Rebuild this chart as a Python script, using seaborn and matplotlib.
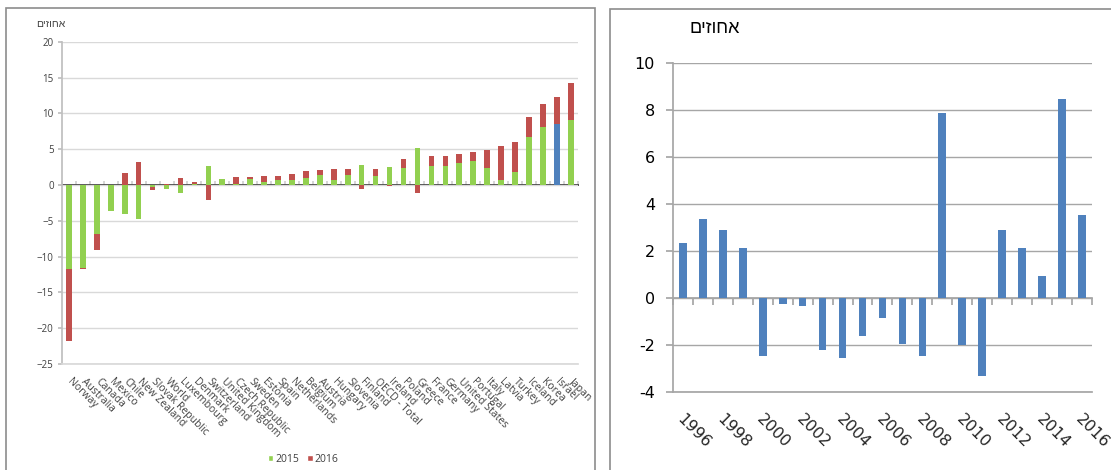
import numpy as np
import pandas as pd
import matplotlib
matplotlib.use("Agg")
import matplotlib.pyplot as plt
from matplotlib.patches import Rectangle, Patch
from matplotlib.transforms import ScaledTranslation
import seaborn as sns

# Price change by country, 2015 and 2016 (percent)
countries = [
    "Norway", "Australia", "Canada", "Mexico", "Chile", "New Zealand",
    "Slovak Republic", "World", "Luxembourg", "Denmark", "Switzerland",
    "United Kingdom", "Czech Republic", "Sweden", "Estonia", "Spain",
    "Netherlands", "Belgium", "Austria", "Hungary", "Slovenia", "Finland",
    "OECD - Total", "Ireland", "Poland", "Greece", "France", "Germany",
    "United States", "Portugal", "Italy", "Latvia", "Turkey", "Iceland",
    "Korea", "Israel", "Japan",
]
change_2015 = [
    -11.7, -11.6, -6.9, -3.6, -4.1, -4.7, -0.25, -0.55, -1.1, 0.2, 2.6,
    0.8, 0.2, 0.85, 0.4, 0.75, 0.75, 1.0, 1.35, 0.75, 1.35, 2.8,
    1.2, 2.55, 2.4, 5.1, 2.7, 2.6, 3.1, 3.35, 2.35, 0.75, 1.8, 6.75,
    8.15, 8.5, 9.1,
]
change_2016 = [
    -10.1, -0.1, -2.2, -0.1, 1.7, 3.2, -0.4, 0.1, 0.9, 0.15, -2.1,
    0.05, 0.85, 0.3, 0.85, 0.5, 0.8, 0.9, 0.8, 1.45, 0.85, -0.55,
    1.05, -0.15, 1.2, -1.1, 1.35, 1.5, 1.25, 1.2, 2.55, 4.7, 4.2, 2.8,
    3.1, 3.75, 5.2,
]
highlight_country = "Israel"

# Israel, annual change 1996-2016 (percent)
years = list(range(1996, 2017))
israel_change = [
    2.35, 3.35, 2.9, 2.15, -2.45, -0.27, -0.32, -2.2, -2.55, -1.6, -0.85,
    -1.95, -2.45, 7.85, -2.0, -3.3, 2.9, 2.15, 0.92, 8.45, 3.55,
]

ylabel_text = "אחוזים"


def rtl(s):
    # matplotlib lays text out left-to-right; reverse Hebrew for display
    return s[::-1]


def nudge(labels, dx_px):
    for lab in labels:
        lab.set_transform(lab.get_transform() +
                          ScaledTranslation(dx_px / 100, 0, fig.dpi_scale_trans))


GREEN = "#92d050"
RED = "#c0504d"
BLUE = "#4f81bd"

sns.set_theme(style="white")
plt.rcParams["font.family"] = ["Open Sans", "DejaVu Sans"]

fig = plt.figure(figsize=(11.11, 4.70), dpi=100)

# ---------------- left panel: stacked bars by country ----------------
ax1 = fig.add_axes([0.0558, 0.2255, 0.4642, 0.6858])

df = pd.DataFrame({"country": countries, "y2015": change_2015, "y2016": change_2016})
a = df["y2015"].to_numpy()
b = df["y2016"].to_numpy()
# positive values stack on positives, negatives on negatives
base_2016 = np.where(b >= 0, np.maximum(a, 0), np.minimum(a, 0))

sns.barplot(data=df, x="country", y="y2015", order=countries, color=GREEN,
            saturation=1, width=0.4, ax=ax1, zorder=3, linewidth=0)
hi = countries.index(highlight_country)
ax1.patches[hi].set_facecolor(BLUE)
sns.barplot(data=df, x="country", y="y2016", order=countries, color=RED,
            saturation=1, width=0.4, ax=ax1, bottom=base_2016, zorder=3,
            linewidth=0)

ax1.set_xlim(-0.5, len(countries) - 0.5)
ax1.set_ylim(-25, 20)
ax1.set_yticks(np.arange(-25, 21, 5))
ax1.yaxis.grid(True, color="#d9d9d9", linewidth=1.0, zorder=0)
ax1.set_xlabel("")
ax1.set_ylabel("")
for side in ["top", "right"]:
    ax1.spines[side].set_visible(False)
ax1.spines["bottom"].set_color("#d9d9d9")
ax1.spines["left"].set_color("#bfbfbf")
ax1.tick_params(axis="y", which="major", left=True, length=3, color="#bfbfbf",
                pad=3, labelsize=7, labelcolor="#404040")
ax1.set_xticks(range(len(countries)))
ax1.set_xticklabels(countries, rotation=-45, ha="left", va="top",
                    rotation_mode="anchor", fontsize=7.5, color="#404040")
ax1.tick_params(axis="x", length=0, pad=9)
nudge(ax1.get_xticklabels(), 4)

# zero line with category separators
zero1 = ax1.secondary_xaxis(25 / 45)
zero1.set_xticks(np.arange(len(countries) + 1) - 0.5, labels=[])
zero1.tick_params(length=3, color="#d0d0d0", direction="out")
zero1.spines["bottom"].set_color("#d0d0d0")

fig.text(0.059, 0.948, rtl(ylabel_text), fontsize=7.5, color="#404040",
         ha="right", va="center", family=["Liberation Sans", "DejaVu Sans"])

handles = [Patch(facecolor=GREEN, label="2015"), Patch(facecolor=RED, label="2016")]
fig.legend(handles=handles, loc="center", bbox_to_anchor=(0.273, 0.022), ncol=2,
           frameon=False, fontsize=7.5, handlelength=0.5, handleheight=0.5,
           handletextpad=0.2, columnspacing=0.8, labelcolor="#404040")

# ---------------- right panel: Israel by year ----------------
ax2 = fig.add_axes([0.6058, 0.1653, 0.3769, 0.7013])
df2 = pd.DataFrame({"year": [str(y) for y in years], "change": israel_change})
sns.barplot(data=df2, x="year", y="change", order=df2["year"].tolist(),
            color=BLUE, saturation=1, width=0.38, ax=ax2, zorder=3, linewidth=0)
ax2.set_xlim(-0.5, len(years) - 0.5)
ax2.set_ylim(-4, 10)
ax2.set_yticks(np.arange(-4, 11, 2))
ax2.yaxis.grid(True, color="#a6a6a6", linewidth=1.0, zorder=0)
ax2.set_xlabel("")
ax2.set_ylabel("")
for side in ["top", "right"]:
    ax2.spines[side].set_visible(False)
ax2.spines["bottom"].set_color("#a6a6a6")
ax2.spines["left"].set_color("#a6a6a6")
ax2.tick_params(axis="y", left=True, length=5, color="#a6a6a6", pad=8,
                labelsize=11.5, labelcolor="#000000")
ax2.set_yticklabels([str(v) for v in range(-4, 11, 2)],
                    family=["DejaVu Sans"])
ax2.set_xticks(range(0, len(years), 2))
ax2.set_xticklabels([str(y) for y in years[::2]], rotation=-45, ha="left",
                    va="top", rotation_mode="anchor", fontsize=11.5,
                    family=["DejaVu Sans"])
ax2.tick_params(axis="x", length=0, pad=14)
nudge(ax2.get_xticklabels(), 2)

zero2 = ax2.secondary_xaxis(4 / 14)
zero2.set_xticks(np.arange(len(years) + 1) - 0.5, labels=[])
zero2.tick_params(length=5, color="#a6a6a6", direction="out")
zero2.spines["bottom"].set_color("#a6a6a6")

fig.text(0.621, 0.94, rtl(ylabel_text), fontsize=13, color="#000000",
         ha="left", va="center", family=["Liberation Sans", "DejaVu Sans"])

# panel frames
fig.add_artist(Rectangle((6 / 1111, -0.05), (595 - 6) / 1111, 1.05 - 8 / 470,
                         transform=fig.transFigure, fill=False,
                         edgecolor="#8c8c8c", linewidth=1.2))
fig.add_artist(Rectangle((610 / 1111, -0.05), 0.5, 1.05 - 9 / 470,
                         transform=fig.transFigure, fill=False,
                         edgecolor="#8c8c8c", linewidth=1.2))

fig.savefig("out.png", dpi=100)
